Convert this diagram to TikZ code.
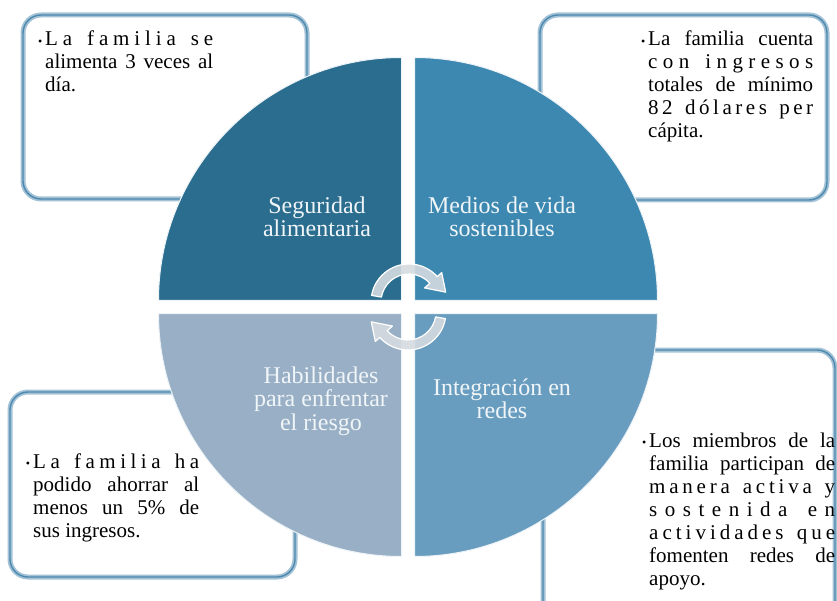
\documentclass[tikz,border=0pt]{standalone}
\usepackage{fontspec}
\setmainfont{Liberation Serif}
\definecolor{qTL}{HTML}{2A6D8F}
\definecolor{qTR}{HTML}{3D88B0}
\definecolor{qBR}{HTML}{699DC0}
\definecolor{qBL}{HTML}{98AFC5}
\definecolor{frLight}{HTML}{A3C2D6}
\definecolor{frDark}{HTML}{4D88AF}
\definecolor{lbl}{HTML}{F0F5F8}
\definecolor{arrowfill}{HTML}{D5DBE0}
\newcommand\ls{\hfil}
\newcommand\wg{\hfil\ \hfil}
\newcommand\jl[2]{\makebox[#1][s]{#2}}
\newcommand\bul{\llap{\raisebox{0.5pt}{\fontsize{12}{12}\selectfont •}\hspace{3pt}}}
\tikzset{
  frame/.style={rounded corners=18pt, preaction={fill=white}, draw=frLight, line width=5pt,
                postaction={draw=frDark, line width=1.4pt}},
  quad/.style={draw=white!80!frLight, line width=1pt},
  qlabel/.style={text=lbl, font=\fontsize{24}{23.5}\selectfont, align=center, inner sep=0pt},
  boxtxt/.style={text=black, font=\fontsize{21}{23}\selectfont, align=left, inner sep=0pt, anchor=base west},
  cyc/.style={fill=arrowfill, fill opacity=0.9, draw=white, line width=1.2pt, line join=round}
}
\begin{document}
\begin{tikzpicture}[x=1pt,y=-1pt]
\useasboundingbox (0,0) rectangle (837,601);
\fill[white] (0,0) rectangle (837,601);
\clip (0,0) rectangle (837,601);

% text boxes
\draw[frame] (23,15) rectangle (307,199);
\draw[frame] (540,15) rectangle (827,200);
\draw[frame] (10,392) rectangle (295,577);
\draw[frame] (543,350) rectangle (835,625);

% quadrants
\filldraw[quad, fill=qTL] (401.5,300.5) -- ++(-243,0) arc[start angle=180, end angle=270, radius=243] -- cycle;
\filldraw[quad, fill=qTR] (414.5,300.5) -- ++(0,-243) arc[start angle=270, end angle=360, radius=243] -- cycle;
\filldraw[quad, fill=qBR] (414.5,313.5) -- ++(243,0) arc[start angle=0, end angle=90, radius=243] -- cycle;
\filldraw[quad, fill=qBL] (401.5,313.5) -- ++(0,243) arc[start angle=90, end angle=180, radius=243] -- cycle;

% cycle arrows
\begin{scope}[shift={(409,302)}]
  \filldraw[cyc] (-170:38) arc[start angle=-170, end angle=-42, radius=38]
     -- (-42:44) -- (-15:38) -- (-42:21) -- (-42:28)
     arc[start angle=-42, end angle=-170, radius=28] -- cycle;
\end{scope}
\begin{scope}[shift={(408,312)}]
  \filldraw[cyc] (10:38) arc[start angle=10, end angle=138, radius=38]
     -- (138:44) -- (165:38) -- (138:21) -- (138:28)
     arc[start angle=138, end angle=10, radius=28] -- cycle;
\end{scope}

% quadrant labels
\node[qlabel] (seg) at (317,217) {Seguridad\\alimentaria};
\node[qlabel] (med) at (502,217) {Medios de vida\\sostenibles};
\node[qlabel] (hab) at (321,401) {Habilidades\\para enfrentar\\el riesgo};
\node[qlabel] (int) at (502,399) {Integración en\\redes};

% box texts (anchored at the baseline of the last line)
\node[boxtxt] (ttl) at (45,92) {\bul\jl{168pt}{L\ls a\wg f\ls a\ls m\ls i\ls l\ls i\ls a\wg s\ls e}\\
  \jl{168pt}{alimenta 3 veces al}\\
  día.};
\node[boxtxt] (ttr) at (648,138) {\bul\jl{165pt}{La familia cuenta}\\
  \jl{165pt}{c\ls o\ls n\wg i\ls n\ls g\ls r\ls e\ls s\ls o\ls s}\\
  \jl{165pt}{totales de mínimo}\\
  \jl{165pt}{8\ls 2\wg d\ls ó\ls l\ls a\ls r\ls e\ls s\wg p\ls e\ls r}\\
  cápita.};
\node[boxtxt] (tbl) at (33,537) {\bul\jl{166pt}{L\ls a\wg f\ls a\ls m\ls i\ls l\ls i\ls a\wg h\ls a}\\
  \jl{166pt}{podido ahorrar al}\\
  \jl{166pt}{menos un 5\% de}\\
  sus ingresos.};
\node[boxtxt] (tbr) at (649,585) {\bul\jl{186pt}{Los miembros de la}\\
  \jl{186pt}{familia participan de}\\
  \jl{186pt}{m\ls a\ls n\ls e\ls r\ls a\wg a\ls c\ls t\ls i\ls v\ls a\wg y}\\
  \jl{186pt}{s\ls o\ls s\ls t\ls e\ls n\ls i\ls d\ls a\wg e\ls n}\\
  \jl{186pt}{a\ls c\ls t\ls i\ls v\ls i\ls d\ls a\ls d\ls e\ls s\wg q\ls u\ls e}\\
  \jl{186pt}{fomenten redes de}\\
  apoyo.};
\end{tikzpicture}
\end{document}
